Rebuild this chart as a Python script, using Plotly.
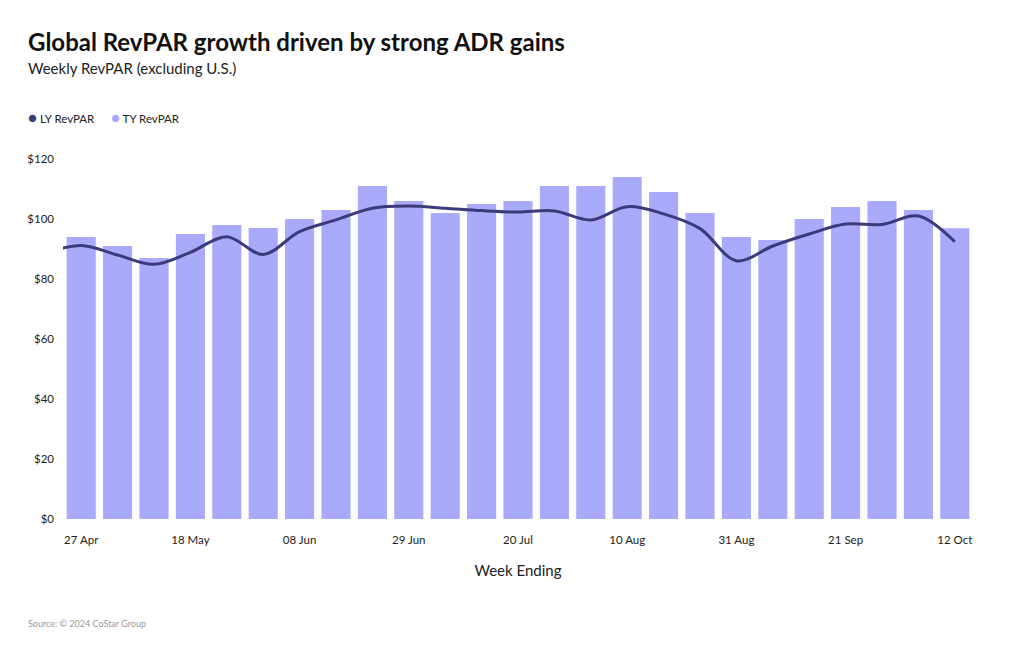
import plotly.graph_objects as go
import pandas as pd

# ---- data ----
week_ending = pd.date_range("2024-04-27", "2024-10-12", freq="7D")
ty_revpar = [94, 91, 87, 95, 98, 97, 100, 103, 111, 106, 102, 105, 106,
             111, 111, 114, 109, 102, 94, 93, 100, 104, 106, 103, 96.9]
ly_dates = pd.date_range("2024-04-20", "2024-10-12", freq="7D")
ly_revpar = [88.5, 91.2, 88.0, 84.9, 88.9, 94.1, 88.2, 95.8, 99.7, 103.6, 104.3,
             103.6, 102.8, 102.3, 102.7, 99.7, 104.1, 101.7, 96.8, 86.1, 91.0,
             95.0, 98.3, 98.2, 101.0, 92.4]
tick_dates = ["2024-04-27", "2024-05-18", "2024-06-08", "2024-06-29", "2024-07-20",
              "2024-08-10", "2024-08-31", "2024-09-21", "2024-10-12"]
tick_labels = ["27 Apr", "18 May", "08 Jun", "29 Jun", "20 Jul",
               "10 Aug", "31 Aug", "21 Sep", "12 Oct"]
y_ticks = [0, 20, 40, 60, 80, 100, 120]
y_tick_labels = ["$0", "$20", "$40", "$60", "$80", "$100", "$120"]

FONT = "Lato, 'Source Sans Pro', 'Noto Sans', sans-serif"
BAR_COLOR = "#aaaafa"
LINE_COLOR = "#3b3b7c"

OFF = 8  # page body margin
W, H = 1020 - OFF, 650 - OFF
L, R, T, B = 63 - OFF, 973 - OFF, 159 - OFF, 519 - OFF  # plot area in figure pixels


def px(x):
    return (x - OFF - L) / (R - L)


def py(y):
    return (B - (y - OFF)) / (B - T)


fig = go.Figure()
fig.add_trace(go.Bar(x=week_ending, y=ty_revpar, name="TY RevPAR",
                     marker=dict(color=BAR_COLOR, line=dict(width=0)),
                     showlegend=False))
fig.add_trace(go.Scatter(x=ly_dates, y=ly_revpar, name="LY RevPAR", mode="lines",
                         line=dict(color=LINE_COLOR, width=3, shape="spline", smoothing=1.0),
                         showlegend=False, cliponaxis=True))

x_start = week_ending[0] - pd.Timedelta(days=3.5)
x_end = week_ending[-1] + pd.Timedelta(days=3.5)

fig.update_layout(
    width=W, height=H,
    margin=dict(l=L, r=W - R, t=T, b=H - B),
    paper_bgcolor="white", plot_bgcolor="white",
    font=dict(family=FONT, color="#222222", size=12),
    bargap=0.2,
    title=dict(text="<b>Global RevPAR growth driven by strong ADR gains</b>",
               x=(28 - OFF) / W, xanchor="left", xref="container",
               y=1 - (43 - OFF) / H, yanchor="middle", yref="container",
               font=dict(size=24, color="#111111", family=FONT)),
    xaxis=dict(type="date", range=[x_start, x_end], tickvals=tick_dates, ticktext=tick_labels,
               showgrid=False, zeroline=False, showline=False, ticks="",
               ticklabelstandoff=12, tickfont=dict(size=11.5, color="#222222"),
               title=dict(text="Week Ending", font=dict(size=15, color="#222222"), standoff=20)),
    yaxis=dict(range=[0, 120], tickvals=y_ticks, ticktext=y_tick_labels,
               showgrid=False, zeroline=False, showline=False, ticks="",
               ticklabelstandoff=8, tickfont=dict(size=11.5, color="#222222")),
    showlegend=False,
)

annotations = [
    dict(text="Weekly RevPAR (excluding U.S.)", x=px(26), y=py(68), xanchor="left",
         yanchor="middle", font=dict(size=15, color="#222222")),
    dict(text=f"<span style='color:{LINE_COLOR};font-size:15px'>●</span> LY RevPAR",
         x=px(26), y=py(117), xanchor="left", yanchor="middle",
         font=dict(size=11.5, color="#222222")),
    dict(text=f"<span style='color:{BAR_COLOR};font-size:15px'>●</span> TY RevPAR",
         x=px(109), y=py(117), xanchor="left", yanchor="middle",
         font=dict(size=11.5, color="#222222")),
    dict(text="Source: © 2024 CoStar Group", x=px(26), y=py(623), xanchor="left",
         yanchor="middle", font=dict(size=9, color="#999999")),
]
for a in annotations:
    a.update(xref="paper", yref="paper", showarrow=False)
fig.update_layout(annotations=annotations)

fig.write_html("out.html")
